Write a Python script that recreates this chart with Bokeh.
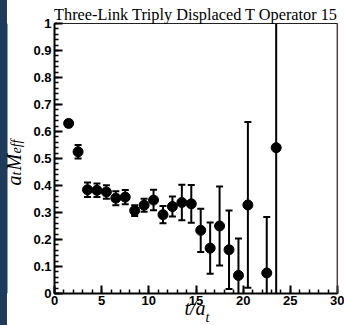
from bokeh.plotting import figure
from bokeh.layouts import row
from bokeh.models import FixedTicker, Label, Span, ColumnDataSource, Title, BoxAnnotation
from bokeh.embed import file_html
from bokeh.resources import INLINE
import math

# ---- data ----
t_vals = [1.5, 2.5, 3.5, 4.5, 5.5, 6.5, 7.5, 8.5, 9.5, 10.5, 11.5, 12.5,
          13.5, 14.5, 15.5, 16.5, 17.5, 18.5, 19.5, 20.5, 22.5, 23.5]
m_eff = [0.630, 0.525, 0.384, 0.382, 0.376, 0.353, 0.357, 0.307, 0.327, 0.346, 0.292, 0.322,
         0.337, 0.332, 0.234, 0.168, 0.250, 0.162, 0.067, 0.328, 0.076, 0.540]
m_err = [0.012, 0.025, 0.027, 0.025, 0.025, 0.026, 0.026, 0.020, 0.024, 0.038, 0.032, 0.037,
         0.066, 0.070, 0.080, 0.095, 0.146, 0.145, 0.137, 0.307, 0.207, 0.650]

x_ticks = [0, 5, 10, 15, 20, 25, 30]
x_minor = list(range(0, 31))
y_ticks = [0, 0.1, 0.2, 0.3, 0.4, 0.5, 0.6, 0.7, 0.8, 0.9, 1]
y_tick_labels = ["0", "0.1", "0.2", "0.3", "0.4", "0.5", "0.6", "0.7", "0.8", "0.9", "1"]
y_minor = [i / 50 for i in range(0, 51)]

title_text = "Three-Link Triply Displaced T Operator 15"

lower = [v - e for v, e in zip(m_eff, m_err)]
upper = [v + e for v, e in zip(m_eff, m_err)]
src = ColumnDataSource(dict(t=t_vals, m=m_eff, lo=lower, hi=upper))

serif = "Liberation Serif"
navy = "#1e3b5c"

# ---- left panel: navy strip + y-axis title ----
yfig = figure(width=30, height=325, output_backend="svg", toolbar_location=None,
              x_axis_type=None, y_axis_type=None, min_border=0,
              styles={"background": "linear-gradient(to right, %s 0px, %s 7px, #ffffff 7px, #ffffff 100%%)" % (navy, navy)})
yfig.outline_line_color = None
yfig.background_fill_alpha = 0
yfig.border_fill_alpha = 0
yfig.add_layout(BoxAnnotation(left=0, right=7, left_units="screen", right_units="screen",
                              fill_color=navy, fill_alpha=1, line_color=None))
ybase = 13
y0 = 108
ylab = [("a", y0, ybase, "20px"),
        ("t", y0 + 10, ybase + 3, "14px"),
        ("M", y0 + 15, ybase, "20px"),
        ("eff", y0 + 32, ybase + 3, "14px")]
for txt, yy, xx, sz in ylab:
    yfig.add_layout(Label(x=xx, y=yy, x_units="screen", y_units="screen", text=txt,
                          angle=math.pi / 2, text_font=serif, text_font_size=sz,
                          text_font_style="italic", text_align="left",
                          text_baseline="alphabetic", text_color="black"))

# ---- main plot ----
p = figure(width=314, height=325, output_backend="svg", toolbar_location=None,
           x_range=(0, 30), y_range=(0, 1),
           min_border_left=21, min_border_right=7, min_border_top=23, min_border_bottom=30)
p.xgrid.visible = False
p.ygrid.visible = False
p.outline_line_color = "#222222"
p.outline_line_width = 1
p.background_fill_color = "white"
p.border_fill_color = "white"

p.title.text = title_text
p.title.align = "center"
p.title.vertical_align = "bottom"
p.title.standoff = 0
p.title.text_font = serif
p.title.text_font_size = "16.3px"
p.title.text_font_style = "normal"
p.title.text_color = "black"

p.xaxis.ticker = FixedTicker(ticks=x_ticks, minor_ticks=x_minor)
p.yaxis.ticker = FixedTicker(ticks=y_ticks, minor_ticks=y_minor)
p.yaxis.major_label_overrides = dict(zip(y_ticks, y_tick_labels))

for ax in (p.xaxis[0], p.yaxis[0]):
    ax.axis_line_width = 2
    ax.axis_line_color = "black"
    ax.major_tick_in = 8
    ax.major_tick_out = 0
    ax.minor_tick_in = 4
    ax.minor_tick_out = 0
    ax.major_tick_line_width = 2
    ax.minor_tick_line_width = 1.5
    ax.major_tick_line_color = "black"
    ax.minor_tick_line_color = "black"
    ax.major_label_text_font = "Liberation Sans"
    ax.major_label_text_font_style = "bold"
    ax.major_label_text_font_size = "13px"
    ax.major_label_text_color = "black"
p.yaxis.major_label_standoff = 3
p.xaxis.major_label_standoff = 2

# x-axis title t/a_t via titles in the bottom panel
p.add_layout(Title(text="t/a", align="left", offset=130, vertical_align="top", standoff=-21,
                   text_font=serif, text_font_size="20px", text_font_style="italic",
                   text_color="black"), "below")
p.add_layout(Title(text="t", align="left", offset=151, vertical_align="top", standoff=-2,
                   text_font=serif, text_font_size="14px", text_font_style="italic",
                   text_color="black"), "below")

p.add_layout(Span(location=30, dimension="height", line_color="#6e5a5a", line_width=2))

# error bars
p.segment(x0="t", y0="lo", x1="t", y1="hi", source=src, line_color="black", line_width=2)
p.scatter(x="t", y="hi", source=src, marker="dash", size=7, line_color="black", line_width=2)
p.scatter(x="t", y="lo", source=src, marker="dash", size=7, line_color="black", line_width=2)
p.scatter(x="t", y="m", source=src, marker="circle", size=10, fill_color="black", line_color="black")

layout = row(yfig, p, spacing=0)
open("out.html", "w").write(file_html(layout, INLINE))
